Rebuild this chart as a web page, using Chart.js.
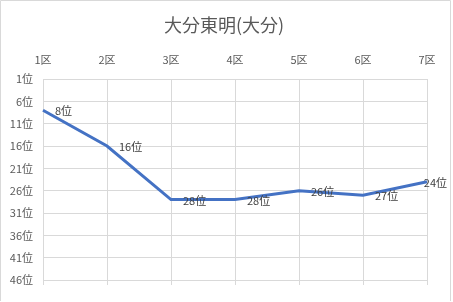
<!DOCTYPE html>
<html>
<head>
<meta charset="utf-8">
<script src="https://cdn.jsdelivr.net/npm/chart.js@4/dist/chart.umd.min.js"></script>
<style>
  html, body { margin: 0; padding: 0; background: #fff; }
  #wrap { width: 453px; height: 302px; }
</style>
</head>
<body>
<div id="wrap"><canvas id="myChart"></canvas></div>
<script>
var chartTitle = "大分東明(大分)";
var sections = ["1区", "2区", "3区", "4区", "5区", "6区", "7区"];
var ranks = [8, 16, 28, 28, 26, 27, 24];
var rankTicks = [1, 6, 11, 16, 21, 26, 31, 36, 41, 46];

var fontJP = "'Noto Sans CJK JP', 'Noto Sans', sans-serif";

// title, labels next to points, little tick marks under the grid, frame
var extras = {
    id: "extras",
    afterDraw: function(chart) {
        var c = chart.ctx;
        var area = chart.chartArea;
        var xs = chart.scales.x;
        c.save();
        c.strokeStyle = "#d9d9d9";
        c.lineWidth = 1;
        for (var i = 0; i < sections.length; i++) {
            var px = Math.round(xs.getPixelForValue(i)) + 0.5;
            c.beginPath();
            c.moveTo(px, area.bottom);
            c.lineTo(px, area.bottom + 5);
            c.stroke();
        }
        c.beginPath();
        c.moveTo(0.5, 301);
        c.lineTo(0.5, 0.5);
        c.lineTo(450.5, 0.5);
        c.lineTo(450.5, 301);
        c.stroke();

        c.font = "18px " + fontJP;
        c.fillStyle = "#595959";
        c.textAlign = "center";
        c.textBaseline = "middle";
        c.fillText(chartTitle, 224, 25);

        c.font = "11px " + fontJP;
        c.fillStyle = "#404040";
        c.textAlign = "left";
        var meta = chart.getDatasetMeta(0);
        meta.data.forEach(function(pt, idx) {
            var txt = ranks[idx] + "位";
            var w = c.measureText(txt).width;
            var tx = Math.min(pt.x + 12, chart.width - w - 6);
            c.fillText(txt, tx, pt.y + 1);
        });
        c.restore();
    }
};

var ctx = document.getElementById("myChart");

var myChart = new Chart(ctx, {
    type: "line",
    data: {
        labels: sections,
        datasets: [{
            data: ranks,
            borderColor: "#4472C4",
            borderWidth: 3,
            pointRadius: 0,
            tension: 0,
            fill: false
        }]
    },
    options: {
        responsive: true,
        maintainAspectRatio: false,
        animation: false,
        layout: { padding: { left: 0, right: 26, top: 40, bottom: 22 } },
        plugins: {
            legend: { display: false },
            tooltip: { enabled: false },
            title: { display: false }
        },
        scales: {
            x: {
                position: "top",
                offset: false,
                grid: { color: "#d9d9d9", drawTicks: false },
                border: { display: false },
                ticks: {
                    color: "#595959",
                    font: { size: 11, family: fontJP },
                    padding: 13,
                    maxRotation: 0
                },
                afterFit: function(scale) { scale.height = 39; }
            },
            y: {
                reverse: true,
                min: 1,
                max: 46,
                grid: { color: "#d9d9d9", drawTicks: false },
                border: { display: false },
                afterBuildTicks: function(scale) {
                    scale.ticks = rankTicks.map(function(v) { return { value: v }; });
                },
                ticks: {
                    color: "#595959",
                    font: { size: 11, family: fontJP },
                    padding: 10,
                    callback: function(v) { return v + "位"; }
                },
                afterFit: function(scale) { scale.width = 43; }
            }
        }
    },
    plugins: [extras]
});
</script>
</body>
</html>
